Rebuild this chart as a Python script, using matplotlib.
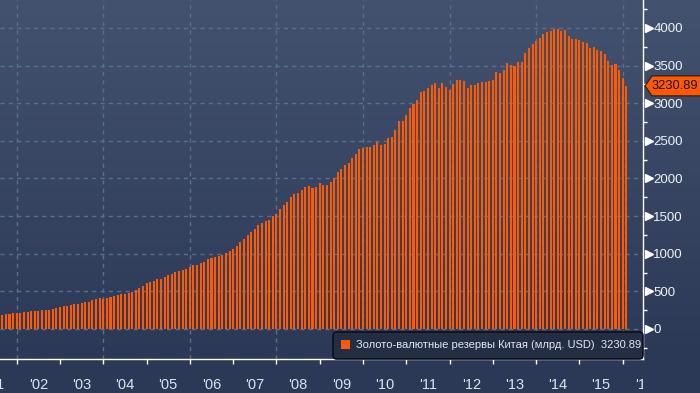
import numpy as np
import matplotlib
matplotlib.use('Agg')
import matplotlib.pyplot as plt
from matplotlib.patches import FancyBboxPatch, Polygon, Rectangle
from matplotlib.transforms import IdentityTransform, Bbox, blended_transform_factory, ScaledTranslation

plt.rcParams['font.family'] = ['Liberation Sans', 'DejaVu Sans']

# China FX reserves, bn USD, month-end values
r2001 = [168.3, 170.3, 175.9, 179.6, 180.5, 180.1, 184.8, 190.8, 195.9, 201.4, 207.8, 212.2]
r2002 = [217.8, 222.2, 227.9, 234.0, 238.3, 242.8, 246.6, 251.7, 258.6, 265.6, 274.7, 286.4]
r2003 = [301.3, 309.5, 316.1, 326.0, 334.1, 346.5, 356.5, 364.7, 384.0, 400.0, 416.1, 403.3]
r2004 = [415.6, 423.1, 439.8, 449.0, 470.6, 470.6, 483.1, 494.7, 514.6, 542.6, 571.6, 609.9]
r2005 = [623.6, 642.6, 659.1, 671.0, 691.0, 711.0, 732.7, 753.3, 769.0, 784.0, 794.2, 818.9]
r2006 = [845.2, 853.7, 875.1, 895.0, 925.0, 941.1, 954.5, 972.0, 987.9, 1009.6, 1038.0, 1066.3]
r2007 = [1104.7, 1158.2, 1202.0, 1246.6, 1292.7, 1332.6, 1385.2, 1408.6, 1433.6, 1454.9, 1497.0, 1528.2]
r2008 = [1589.8, 1647.1, 1682.2, 1756.7, 1797.0, 1808.8, 1845.2, 1884.2, 1905.6, 1879.7, 1884.7, 1946.0]
r2009 = [1913.5, 1912.1, 1953.7, 2008.9, 2089.5, 2131.6, 2174.6, 2210.8, 2272.6, 2327.3, 2388.8, 2399.2]
r2010 = [2415.2, 2424.6, 2447.1, 2490.5, 2439.5, 2454.3, 2538.4, 2547.8, 2648.3, 2760.9, 2767.8, 2847.3]
r2011 = [2931.7, 2991.4, 3044.7, 3145.2, 3166.3, 3197.5, 3245.3, 3262.5, 3201.7, 3273.8, 3220.9, 3181.1]
r2012 = [3253.6, 3309.7, 3305.0, 3298.8, 3206.1, 3240.0, 3240.0, 3272.9, 3285.1, 3287.4, 3297.0, 3311.6]
r2013 = [3410.0, 3395.4, 3442.6, 3534.5, 3514.8, 3496.7, 3547.8, 3553.0, 3662.7, 3736.6, 3789.5, 3821.3]
r2014 = [3866.6, 3913.7, 3948.1, 3958.8, 3983.9, 3993.2, 3966.3, 3968.8, 3887.7, 3852.9, 3847.4, 3843.0]
r2015 = [3813.4, 3801.5, 3730.0, 3748.1, 3711.1, 3693.8, 3651.3, 3557.4, 3514.1, 3525.5, 3438.3, 3330.4]
r2016 = [3230.89]

yearly = [r2001, r2002, r2003, r2004, r2005, r2006, r2007, r2008,
          r2009, r2010, r2011, r2012, r2013, r2014, r2015, r2016]
years = list(range(2001, 2017))
year_labels = ["'01", "'02", "'03", "'04", "'05", "'06", "'07", "'08",
               "'09", "'10", "'11", "'12", "'13", "'14", "'15", "'16"]
y_ticks = [0, 500, 1000, 1500, 2000, 2500, 3000, 3500, 4000]
legend_label = 'Золото-валютные резервы Китая (млрд. USD)  3230.89'
last_value = 3230.89

xs, vals = [], []
for yr, row in zip(years, yearly):
    for m, v in enumerate(row):
        xs.append(yr + (m + 1) / 12.0)
        vals.append(v)

W, H = 700, 393
fig = plt.figure(figsize=(7, 3.93), dpi=100)

# background gradient
bg = fig.add_axes([0, 0, 1, 1], zorder=0)
top = np.array([0x43, 0x52, 0x6f]) / 255.0
bot = np.array([0x2c, 0x39, 0x56]) / 255.0
t = np.clip(np.arange(H) / 359.0, 0, 1)[:, None]
img = top * (1 - t) + bot * t
bg.imshow(img[:, None, :], aspect='auto', extent=[0, 1, 0, 1])
bg.axis('off')

ax = fig.add_axes([0, 34 / H, 643 / W, 359 / H], zorder=1)
ax.patch.set_alpha(0)
ax.set_xlim(2001.614, 2016.469)
ax.set_ylim(-398.7, 4372)

ax.bar(xs, vals, width=0.047, color='#ff5a00', linewidth=0, zorder=2)

grid_c = '#57718c'
for v in y_ticks:
    ax.axhline(v, color=grid_c, lw=1, ls=(0, (3, 3)), zorder=1)
for yr in range(2002, 2017, 2):
    ax.axvline(yr, color=grid_c, lw=1, ls=(0, (3, 3)), zorder=1)

for s in ['top', 'left']:
    ax.spines[s].set_visible(False)
for s in ['right', 'bottom']:
    ax.spines[s].set_color('white')
    ax.spines[s].set_linewidth(1)

# x axis: year ticks and centered labels
ax.set_xticks(years[1:])
ax.set_xticklabels([])
ax.tick_params(axis='x', which='major', length=3.5, width=1, color='white', direction='out')
clipbox = Bbox.from_extents(0, 0, 643, H)
xtr = blended_transform_factory(ax.transData, ax.transAxes)
for yr, lab in zip(years, year_labels):
    tx = ax.text(yr + 0.5, -0.0724, lab, transform=xtr, ha='center', va='center',
                 fontsize=10.5, color='#dbe4ef', clip_on=True)
    tx.set_clip_box(clipbox)

# y axis on the right
ax.yaxis.tick_right()
ax.set_yticks(y_ticks)
ax.set_yticklabels([str(v) for v in y_ticks])
ax.set_yticks(np.arange(-250, 4500, 500), minor=True)
ax.tick_params(axis='y', which='major', length=0, pad=7.5, labelsize=9.5, labelcolor='#eef2f7')
ax.tick_params(axis='y', which='minor', length=3, width=1, color='white')
ytr = blended_transform_factory(ax.transAxes, ax.transData) + ScaledTranslation(4.5 / 72, 0, fig.dpi_scale_trans)
ax.plot([1.0] * len(y_ticks), y_ticks, ls='none', marker='>', ms=5.5, color='white',
        transform=ytr, clip_on=False, zorder=5)

# last value tag
yc = ax.transData.transform((2016.0, last_value))[1]
tag = Polygon([(645, yc), (652, yc + 10), (702, yc + 10), (702, yc - 10), (652, yc - 10)],
              closed=True, transform=IdentityTransform(), facecolor='#ff5a00',
              edgecolor='#2a1a10', lw=0.8, zorder=10)
fig.patches.append(tag)
fig.text(652 / W, yc / H, '3230.89', ha='left', va='center', fontsize=9.3, color='#111111', zorder=11)

# legend box
leg = FancyBboxPatch((333, 34), 310, 27, boxstyle='round,pad=0,rounding_size=4',
                     transform=IdentityTransform(), facecolor='#232d44',
                     edgecolor='#0c0f16', lw=1.2, zorder=10)
fig.patches.append(leg)
sq = Rectangle((341, 44), 9, 9, transform=IdentityTransform(), facecolor='#ff5a00',
               edgecolor='none', zorder=11)
fig.patches.append(sq)
fig.text(356 / W, 48 / H, legend_label, ha='left', va='center', fontsize=8,
         color='#e3e8f0', zorder=11)

fig.savefig('out.png', dpi=100)
